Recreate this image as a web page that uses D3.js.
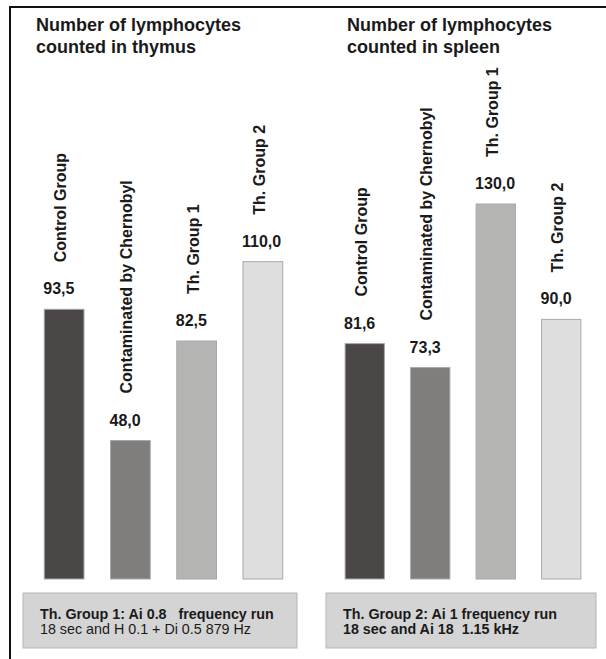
<!DOCTYPE html>
<html>
<head>
<meta charset="utf-8">
<script src="https://cdn.jsdelivr.net/npm/d3@7"></script>
<style>
  html, body { margin: 0; padding: 0; background: #fff; }
  svg { display: block; font-family: "Liberation Sans", Arial, sans-serif; }
</style>
</head>
<body>
<svg id="chart" width="606" height="659"></svg>
<script>
// ---- data ----
const categories = ["Control Group", "Contaminated by Chernobyl", "Th. Group 1", "Th. Group 2"];
const thymusValues = [93.5, 48.0, 82.5, 110.0];
const spleenValues = [81.6, 73.3, 130.0, 90.0];
const thymusTitle = ["Number of lymphocytes", "counted in thymus"];
const spleenTitle = ["Number of lymphocytes", "counted in spleen"];
const thymusNote = ["Th. Group 1: Ai 0.8   frequency run", "18 sec and H 0.1 + Di 0.5 879 Hz"];
const spleenNote = ["Th. Group 2: Ai 1 frequency run", "18 sec and Ai 18  1.15 kHz"];
const barColors = ["#4b4746", "#7f7e7d", "#b4b4b3", "#dedede"];

const svg = d3.select("#chart");
const fmt = v => d3.format(".1f")(v).replace(".", ",");

// frame (top and left edges visible)
svg.append("line").attr("x1", 10).attr("y1", 7).attr("x2", 606).attr("y2", 7)
  .attr("stroke", "#111").attr("stroke-width", 2);
svg.append("line").attr("x1", 10).attr("y1", 6).attr("x2", 10).attr("y2", 659)
  .attr("stroke", "#111").attr("stroke-width", 2);

const y = d3.scaleLinear().domain([0, 130]).range([579, 204]);
const color = d3.scaleOrdinal().domain(categories).range(barColors);

function panel(values, title, note, xRange, titleX, box, noteBoldBoth) {
  const x = d3.scaleBand().domain(categories).range(xRange).paddingInner(0.4).paddingOuter(0.2);
  const g = svg.append("g");

  // title
  const t = g.append("text").attr("x", titleX).attr("y", 31)
    .attr("font-size", 18).attr("font-weight", "bold").attr("fill", "#1a1a1a");
  title.forEach((line, i) => t.append("tspan").attr("x", titleX).attr("dy", i === 0 ? 0 : 22).text(line));

  const data = categories.map((c, i) => ({ c, v: values[i] }));

  // bars
  g.selectAll("rect.bar").data(data).join("rect").attr("class", "bar")
    .attr("x", d => x(d.c)).attr("y", d => y(d.v))
    .attr("width", x.bandwidth()).attr("height", d => y(0) - y(d.v))
    .attr("fill", d => color(d.c)).attr("stroke", "#a8a8a8").attr("stroke-width", 1);

  // value labels
  g.selectAll("text.val").data(data).join("text").attr("class", "val")
    .attr("x", d => x(d.c) - 1).attr("y", d => y(d.v) - 15)
    .attr("font-size", 16).attr("font-weight", "bold").attr("fill", "#1a1a1a")
    .text(d => fmt(d.v));

  // category labels (rotated)
  g.selectAll("text.cat").data(data).join("text").attr("class", "cat")
    .attr("transform", d => `translate(${x(d.c) + x.bandwidth() / 2 + 2},${y(d.v) - 47}) rotate(-90)`)
    .attr("font-size", 16).attr("font-weight", "bold").attr("fill", "#1a1a1a")
    .text(d => d.c);

  // note box
  g.append("rect").attr("x", box[0]).attr("y", 593).attr("width", box[1] - box[0]).attr("height", 55)
    .attr("fill", "#d4d4d4").attr("stroke", "#b5b5b5").attr("stroke-width", 1);
  note.forEach((line, i) => {
    g.append("text").attr("x", box[0] + (noteBoldBoth ? 17 : 17)).attr("y", 619 + i * 15)
      .attr("font-size", 14.3).attr("font-weight", (i === 0 || noteBoldBoth) ? "bold" : "normal")
      .attr("fill", "#1a1a1a").style("white-space", "pre").text(line);
  });
}

panel(thymusValues, thymusTitle, thymusNote, [31, 296], 36, [23, 297], false);
panel(spleenValues, spleenTitle, spleenNote, [332, 594], 347, [326, 596], true);
</script>
</body>
</html>
